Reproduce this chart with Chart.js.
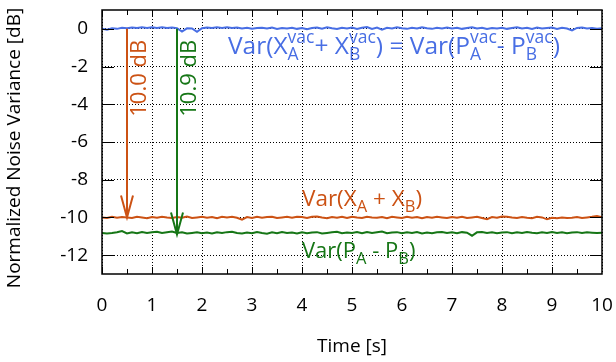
<!DOCTYPE html>
<html lang="en">
  <head>
    <meta charset="UTF-8" />
    <title>Normalized Noise Variance</title>
    <script src="https://cdn.jsdelivr.net/npm/chart.js@4.4.1/dist/chart.umd.min.js"></script>
    <style>
      body {
        margin: 0;
        background: #fff;
      }
      #wrap {
        width: 616px;
        height: 362px;
      }
    </style>
  </head>
  <body>
    <div id="wrap"><canvas id="myChart" width="616" height="362"></canvas></div>

    <script>
      // time axis [s]
      const time = [
        0.0, 0.1, 0.2, 0.3, 0.4, 0.5, 0.6, 0.7, 0.8, 0.9,
        1.0, 1.1, 1.2, 1.3, 1.4, 1.5, 1.6, 1.7, 1.8, 1.9,
        2.0, 2.1, 2.2, 2.3, 2.4, 2.5, 2.6, 2.7, 2.8, 2.9,
        3.0, 3.1, 3.2, 3.3, 3.4, 3.5, 3.6, 3.7, 3.8, 3.9,
        4.0, 4.1, 4.2, 4.3, 4.4, 4.5, 4.6, 4.7, 4.8, 4.9,
        5.0, 5.1, 5.2, 5.3, 5.4, 5.5, 5.6, 5.7, 5.8, 5.9,
        6.0, 6.1, 6.2, 6.3, 6.4, 6.5, 6.6, 6.7, 6.8, 6.9,
        7.0, 7.1, 7.2, 7.3, 7.4, 7.5, 7.6, 7.7, 7.8, 7.9,
        8.0, 8.1, 8.2, 8.3, 8.4, 8.5, 8.6, 8.7, 8.8, 8.9,
        9.0, 9.1, 9.2, 9.3, 9.4, 9.5, 9.6, 9.7, 9.8, 9.9,
        10.0,
      ];

      // vacuum (shot noise) reference [dB]
      const vacuum = [
        0.0, -0.05, 0.03, 0.0, 0.06, 0.03, 0.07, 0.04, 0.08, 0.05,
        0.09, 0.05, 0.08, 0.04, 0.07, 0.04, -0.14, 0.03, 0.02, -0.16,
        0.03, 0.07, 0.04, 0.08, 0.05, 0.09, 0.04, 0.07, 0.02, 0.06,
        0.01, 0.05, 0.06, 0.02, 0.07, -0.01, 0.05, 0.02, 0.06, 0.0,
        0.05, -0.02, 0.04, 0.07, 0.01, 0.08, 0.03, -0.01, 0.06, 0.02,
        0.07, 0.0, 0.06, 0.1, -0.01, 0.07, -0.04, 0.06, 0.02, 0.08,
        0.03, 0.0, 0.06, 0.02, 0.08, 0.03, 0.0, 0.06, 0.02, 0.07,
        0.02, 0.06, 0.0, 0.05, 0.08, 0.02, 0.06, -0.01, 0.05, 0.02,
        0.06, 0.0, 0.05, 0.08, 0.02, 0.06, 0.0, 0.07, 0.02, 0.05,
        0.07, 0.0, 0.06, 0.02, -0.08, 0.05, 0.07, 0.02, 0.05, 0.01,
        0.03,
      ];

      // Var(XA + XB) [dB]
      const sumX = [
        -10.0, -10.03, -9.97, -10.02, -9.98, -10.0, -10.03, -9.97, -10.0, -10.04,
        -9.98, -10.02, -9.96, -10.0, -10.03, -9.98, -10.02, -9.95, -10.03, -10.0,
        -9.97, -10.02, -9.98, -10.04, -9.96, -10.0, -9.97, -10.02, -10.12, -9.98,
        -10.03, -9.97, -10.02, -9.98, -9.96, -10.03, -10.0, -9.97, -10.02, -9.96,
        -9.98, -10.03, -9.97, -9.95, -10.0, -10.04, -9.98, -10.02, -9.97, -10.03,
        -9.96, -10.0, -10.03, -9.97, -10.0, -10.02, -9.98, -10.04, -9.97, -10.0,
        -10.03, -9.97, -10.02, -9.98, -10.04, -9.98, -10.02, -9.97, -10.0, -10.03,
        -9.98, -10.02, -9.96, -10.03, -10.0, -9.97, -10.03, -10.09, -9.98, -10.02,
        -9.95, -9.96, -10.0, -10.03, -9.98, -10.02, -10.04, -9.97, -10.0, -10.1,
        -10.02, -10.04, -10.0, -10.03, -10.02, -9.98, -10.03, -10.0, -9.97, -9.93,
        -9.99,
      ];

      // Var(PA - PB) [dB]
      const diffP = [
        -10.82, -10.85, -10.83, -10.79, -10.72, -10.85, -10.79, -10.84, -10.78, -10.83,
        -10.79, -10.76, -10.82, -10.78, -10.75, -10.83, -10.79, -10.85, -10.82, -10.79,
        -10.84, -10.8, -10.85, -10.79, -10.83, -10.78, -10.76, -10.83, -10.85, -10.8,
        -10.84, -10.77, -10.83, -10.86, -10.79, -10.84, -10.78, -10.83, -10.8, -10.85,
        -10.79, -10.84, -10.8, -10.78, -10.85, -10.82, -10.79, -10.76, -10.84, -10.8,
        -10.83, -10.78, -10.84, -10.77, -10.83, -10.79, -10.75, -10.84, -10.8, -10.78,
        -10.84, -10.79, -10.83, -10.78, -10.85, -10.8, -10.84, -10.79, -10.77, -10.83,
        -10.79, -10.84, -10.78, -10.81, -10.97, -10.79, -10.77, -10.83, -10.79, -10.84,
        -10.8, -10.78, -10.84, -10.79, -10.83, -10.77, -10.81, -10.84, -10.79, -10.83,
        -10.78, -10.83, -10.79, -10.84, -10.8, -10.78, -10.83, -10.79, -10.81, -10.83,
        -10.81,
      ];

      const xTicks = [0, 1, 2, 3, 4, 5, 6, 7, 8, 9, 10];
      const yTicks = [-12, -10, -8, -6, -4, -2, 0];

      // squeezing arrows: x position, level reached, label
      const arrowX = [0.5, 1.5];
      const arrowTo = [-10.0, -10.9];
      const arrowText = ["10.0 dB", "10.9 dB"];

      const BLUE = "rgb(72, 110, 228)";
      const ORANGE = "rgb(204, 82, 20)";
      const GREEN = "rgb(22, 118, 22)";
      const FONT = "'Open Sans', sans-serif";

      function toPoints(ys) {
        return ys.map((y, i) => ({ x: time[i], y: y }));
      }

      // draws text with sub/superscripts, parts = [main, sub, sup]
      function drawRich(ctx, x, y, parts, color, size, small) {
        ctx.save();
        ctx.fillStyle = color;
        ctx.textAlign = "left";
        ctx.textBaseline = "alphabetic";
        parts.forEach(function (p) {
          ctx.font = size + "px " + FONT;
          ctx.fillText(p[0], x, y);
          x += ctx.measureText(p[0]).width;
          ctx.font = small + "px " + FONT;
          let w = 0;
          if (p[1]) {
            ctx.fillText(p[1], x, y + 6);
            w = ctx.measureText(p[1]).width;
          }
          if (p[2]) {
            ctx.fillText(p[2], x, y - 11);
            w = Math.max(w, ctx.measureText(p[2]).width);
          }
          x += w;
        });
        ctx.restore();
      }

      const decorations = {
        id: "decorations",
        afterDatasetsDraw(chart) {
          const ctx = chart.ctx;
          const a = chart.chartArea;
          const xs = chart.scales.x;
          const ys = chart.scales.y;
          ctx.save();

          // inward tick marks
          ctx.strokeStyle = "#000";
          ctx.lineWidth = 1;
          ctx.beginPath();
          for (let i = 0; i < 20; i++) {
            const v = i / 2;
            const px = Math.round(xs.getPixelForValue(v)) + 0.5;
            const len = i % 2 === 0 ? 7 : 5;
            ctx.moveTo(px, a.bottom);
            ctx.lineTo(px, a.bottom - len);
            ctx.moveTo(px, a.top);
            ctx.lineTo(px, a.top + len);
          }
          yTicks.forEach(function (v) {
            const py = Math.round(ys.getPixelForValue(v)) + 0.5;
            ctx.moveTo(a.left, py);
            ctx.lineTo(a.left + 12, py);
            ctx.moveTo(a.right, py);
            ctx.lineTo(a.right - 12, py);
          });
          ctx.stroke();

          // frame
          ctx.lineWidth = 1.5;
          ctx.strokeRect(a.left, a.top, a.right - a.left, a.bottom - a.top);

          // arrows
          const colors = [ORANGE, GREEN];
          arrowX.forEach(function (xv, i) {
            const px = xs.getPixelForValue(xv);
            const y0 = ys.getPixelForValue(0);
            const y1 = ys.getPixelForValue(arrowTo[i]);
            ctx.strokeStyle = colors[i];
            ctx.lineWidth = 2;
            ctx.beginPath();
            ctx.moveTo(px, y0);
            ctx.lineTo(px, y1);
            ctx.moveTo(px - 6, y1 - 22);
            ctx.lineTo(px, y1);
            ctx.lineTo(px + 6, y1 - 22);
            ctx.stroke();

            ctx.save();
            ctx.translate(px + 13, ys.getPixelForValue(-2.62));
            ctx.rotate(-Math.PI / 2);
            ctx.fillStyle = colors[i];
            ctx.font = "22px " + FONT;
            ctx.textAlign = "center";
            ctx.textBaseline = "middle";
            ctx.fillText(arrowText[i], 0, 0);
            ctx.restore();
          });

          // curve labels
          drawRich(
            ctx,
            xs.getPixelForValue(2.52),
            ys.getPixelForValue(-1.32),
            [
              ["Var(X", "A", "vac"],
              ["+ X", "B", "vac"],
              [") = Var(P", "A", "vac"],
              ["- P", "B", "vac"],
              [")"],
            ],
            BLUE,
            24.5,
            17.5
          );
          drawRich(
            ctx,
            xs.getPixelForValue(4.0),
            ys.getPixelForValue(-9.42),
            [["Var(X", "A"], [" + X", "B"], [")"]],
            ORANGE,
            22.5,
            16.5
          );
          drawRich(
            ctx,
            xs.getPixelForValue(4.0),
            ys.getPixelForValue(-12.14),
            [["Var(P", "A"], [" - P", "B"], [")"]],
            GREEN,
            22,
            16.5
          );

          // y axis title, slightly below the plot centre as in the original
          ctx.save();
          ctx.translate(15, 148);
          ctx.rotate(-Math.PI / 2);
          ctx.fillStyle = "#000";
          ctx.font = "19px " + FONT;
          ctx.textAlign = "center";
          ctx.textBaseline = "middle";
          ctx.fillText("Normalized Noise Variance [dB]", 0, 0);
          ctx.restore();
          ctx.restore();
        },
      };

      const lineStyle = {
        borderWidth: 2,
        pointRadius: 0,
        tension: 0,
        fill: false,
      };

      new Chart(document.getElementById("myChart"), {
        type: "line",
        data: {
          datasets: [
            Object.assign({ data: toPoints(vacuum), borderColor: BLUE }, lineStyle),
            Object.assign({ data: toPoints(sumX), borderColor: ORANGE }, lineStyle),
            Object.assign({ data: toPoints(diffP), borderColor: GREEN }, lineStyle),
          ],
        },
        options: {
          responsive: false,
          animation: false,
          layout: { padding: { left: 0, right: 14, top: 10, bottom: 0 } },
          plugins: {
            legend: { display: false },
            tooltip: { enabled: false },
          },
          scales: {
            x: {
              type: "linear",
              min: 0,
              max: 10,
              afterBuildTicks: function (s) {
                s.ticks = xTicks.map((v) => ({ value: v }));
              },
              afterFit: function (s) {
                s.height = 88;
                s.paddingLeft = 0;
                s.paddingRight = 0;
              },
              grid: { color: "#000", lineWidth: 1, drawTicks: false },
              border: { display: false, dash: [1, 2] },
              ticks: {
                color: "#000",
                padding: 20,
                font: { family: FONT, size: 19 },
              },
              title: {
                display: true,
                text: "Time [s]",
                color: "#000",
                font: { family: FONT, size: 19 },
                padding: { top: 0, bottom: 4 },
              },
            },
            y: {
              min: -13,
              max: 1,
              afterBuildTicks: function (s) {
                s.ticks = yTicks.map((v) => ({ value: v }));
              },
              afterFit: function (s) {
                s.width = 102;
                s.paddingTop = 0;
                s.paddingBottom = 0;
              },
              grid: { color: "#000", lineWidth: 1, drawTicks: false },
              border: { display: false, dash: [1, 2] },
              ticks: {
                color: "#000",
                padding: 14,
                font: { family: FONT, size: 19 },
              },
            },
          },
        },
        plugins: [decorations],
      });
    </script>
  </body>
</html>
